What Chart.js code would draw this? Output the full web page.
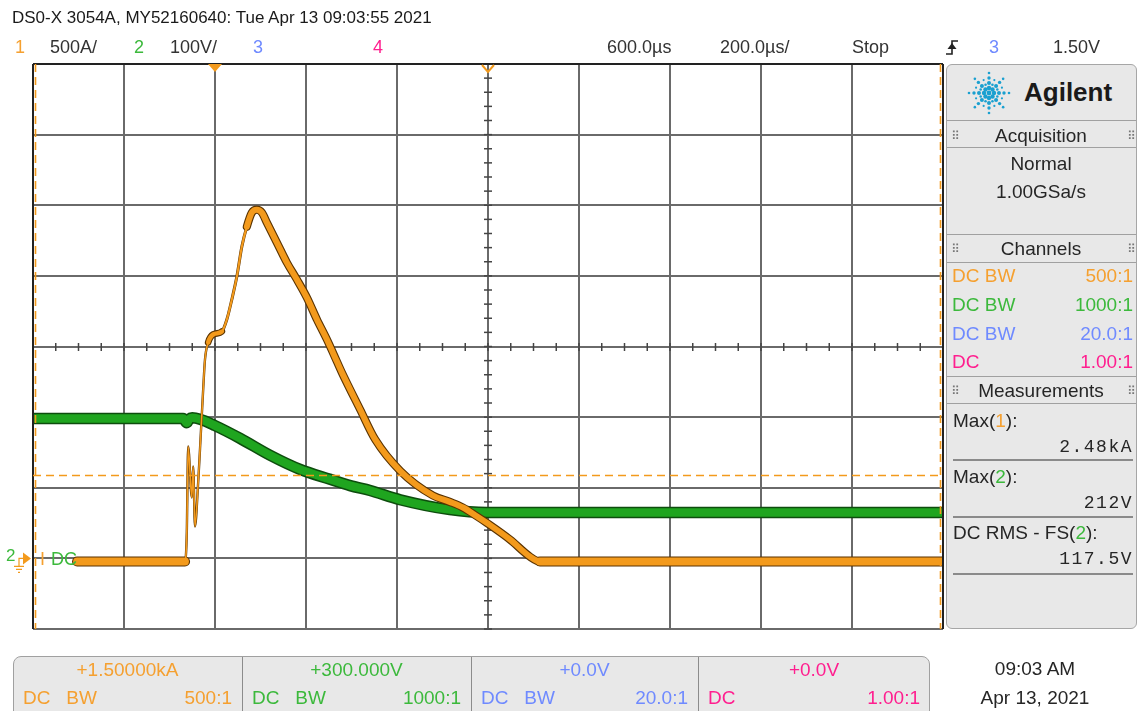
<!DOCTYPE html>
<html><head><meta charset="utf-8">
<script src="https://cdn.jsdelivr.net/npm/chart.js@4.4.1/dist/chart.umd.min.js"></script>
<style>
body{margin:0;background:#fff;width:1139px;height:711px;overflow:hidden;position:relative;font-family:"Liberation Sans",Arial,sans-serif;}
#c{position:absolute;left:0;top:0;}
.t{position:absolute;white-space:nowrap;}
.box{position:absolute;box-sizing:border-box;}
</style></head><body>
<canvas id="c" width="1139" height="711"></canvas>
<script>
const ch1TimeUs = [-303,-66,-62,-59,-51,-48,-44,-37,-33,-26,-22,-15,-4,15,26,37,48,59,70,81,92,103,114,136,158,180,202,224,246,268,279,319,352,407,479,516,545,576,598,648,692,714,1600];
const ch1CurrentA = [-22,-22,183,792,431,650,226,537,771,1196,1408,1529,1585,1606,1691,1833,1995,2207,2349,2448,2469,2448,2377,2236,2094,1974,1846,1691,1549,1393,1315,1054,842,620,445,400,360,297,250,134,13,-22,-22];
const ch2TimeUs = [-400,-70,-62,-57,-50,-33,0,55,121,187,253,297,341,407,516,598,1600];
const ch2VoltageV = [198,198,192,197,199,197,188,170,146,126,112,103,96,83,69,65,65];
// scope settings
const timebaseUsPerDiv = 200, delayUs = 600;
const ch1AmpsPerDiv = 500, ch1OffsetA = 1500;
const ch2VoltsPerDiv = 100, ch2OffsetV = 300;
const cursorTimesUs = [-396, 1594];
const cursorLevelA = 590;

const xMin = delayUs - 5*timebaseUsPerDiv, xMax = delayUs + 5*timebaseUsPerDiv;
const y1Min = ch1OffsetA - 4*ch1AmpsPerDiv, y1Max = ch1OffsetA + 4*ch1AmpsPerDiv;
const y2Min = ch2OffsetV - 4*ch2VoltsPerDiv, y2Max = ch2OffsetV + 4*ch2VoltsPerDiv;

const pts = (xs, ys) => xs.map((x,i)=>({x, y: ys[i]}));
const ORANGE = '#f39a1c', ORANGE_DK = '#5a3300', GREEN = '#1fa51f', GREEN_DK = '#0d4d0d';

function orangeW(t, dark){
  let w;
  if (t < -67) w = 8;
  else if (t < -16) w = 1.6;
  else if (t < 2) w = 4.5;
  else if (t < 68) w = 2.2;
  else if (t < 712) w = 6;
  else w = 8;
  return dark ? w + (w < 3 ? 0.8 : 2.2) : w;
}

const scopePlugin = {
  id: 'scope',
  beforeDatasetsDraw(chart){
    const {ctx, chartArea: a, scales: {x, y}} = chart;
    ctx.save();
    ctx.strokeStyle = '#6a6a6a'; ctx.lineWidth = 2;
    for (let i = 0; i <= 10; i++){
      const px = Math.round(x.getPixelForValue(xMin + i*timebaseUsPerDiv));
      ctx.beginPath(); ctx.moveTo(px, a.top); ctx.lineTo(px, a.bottom); ctx.stroke();
    }
    for (let j = 0; j <= 8; j++){
      const py = Math.round(y.getPixelForValue(y1Min + j*ch1AmpsPerDiv));
      ctx.beginPath(); ctx.moveTo(a.left, py); ctx.lineTo(a.right, py); ctx.stroke();
    }
    const cx = Math.round(x.getPixelForValue(delayUs));
    const cy = Math.round(y.getPixelForValue(ch1OffsetA));
    ctx.strokeStyle = '#444'; ctx.lineWidth = 1.5;
    for (let k = 0; k <= 40; k++){
      const py = a.top + k*a.height/40;
      ctx.beginPath(); ctx.moveTo(cx-4, py); ctx.lineTo(cx+4, py); ctx.stroke();
      const px = a.left + k*a.width/40;
      ctx.beginPath(); ctx.moveTo(px, cy-4); ctx.lineTo(px, cy+4); ctx.stroke();
    }
    ctx.restore();
  },
  afterDatasetsDraw(chart){
    const {ctx, chartArea: a, scales: {x, y}} = chart;
    ctx.save();
    ctx.strokeStyle = '#222'; ctx.lineWidth = 2;
    ctx.beginPath(); ctx.moveTo(a.left, a.top); ctx.lineTo(a.right, a.top); ctx.stroke();
    ctx.beginPath(); ctx.moveTo(a.left, a.top); ctx.lineTo(a.left, a.bottom); ctx.stroke();
    ctx.beginPath(); ctx.moveTo(a.right, a.top); ctx.lineTo(a.right, a.bottom); ctx.stroke();
    ctx.strokeStyle = ORANGE; ctx.lineWidth = 1.6; ctx.setLineDash([8,5]);
    const ly = Math.round(y.getPixelForValue(cursorLevelA)) + 0.5;
    ctx.beginPath(); ctx.moveTo(a.left, ly); ctx.lineTo(a.right, ly); ctx.stroke();
    cursorTimesUs.forEach(t => {
      const px = Math.round(x.getPixelForValue(t)) + 0.5;
      ctx.beginPath(); ctx.moveTo(px, a.top); ctx.lineTo(px, a.bottom); ctx.stroke();
    });
    ctx.setLineDash([]);
    const tx = x.getPixelForValue(0);
    ctx.fillStyle = ORANGE;
    ctx.beginPath(); ctx.moveTo(tx-7, a.top); ctx.lineTo(tx+7, a.top); ctx.lineTo(tx, a.top+8); ctx.closePath(); ctx.fill();
    const dx = x.getPixelForValue(delayUs);
    ctx.strokeStyle = ORANGE; ctx.lineWidth = 2;
    ctx.beginPath(); ctx.moveTo(dx-6, a.top+1); ctx.lineTo(dx, a.top+8); ctx.lineTo(dx+6, a.top+1); ctx.stroke();
    const gy = y.getPixelForValue(0);
    ctx.fillStyle = ORANGE;
    ctx.beginPath(); ctx.moveTo(23, gy-6); ctx.lineTo(31, gy); ctx.lineTo(23, gy+6); ctx.closePath(); ctx.fill();
    ctx.strokeStyle = ORANGE; ctx.lineWidth = 1.2;
    ctx.beginPath(); ctx.moveTo(24, gy); ctx.lineTo(19, gy); ctx.lineTo(19, gy+8); ctx.stroke();
    ctx.beginPath(); ctx.moveTo(14, gy+8); ctx.lineTo(24, gy+8); ctx.moveTo(16, gy+11); ctx.lineTo(22, gy+11); ctx.moveTo(18, gy+14); ctx.lineTo(20, gy+14); ctx.stroke();
    ctx.restore();
  }
};

new Chart(document.getElementById('c'), {
  type: 'line',
  data: { datasets: [
    { label:'ch1', data: pts(ch1TimeUs, ch1CurrentA), yAxisID:'y', borderColor: ORANGE, order: 1,
      borderCapStyle:'round', borderJoinStyle:'round',
      segment: { borderWidth: c => orangeW(c.p0.parsed.x, false) } },
    { label:'ch1 edge', data: pts(ch1TimeUs, ch1CurrentA), yAxisID:'y', borderColor: ORANGE_DK, order: 2,
      borderCapStyle:'round', borderJoinStyle:'round',
      segment: { borderWidth: c => orangeW(c.p0.parsed.x, true) } },
    { label:'ch2', data: pts(ch2TimeUs, ch2VoltageV), yAxisID:'y2', borderColor: GREEN, borderWidth: 8.5, order: 3,
      borderJoinStyle:'miter' },
    { label:'ch2 edge', data: pts(ch2TimeUs, ch2VoltageV), yAxisID:'y2', borderColor: GREEN_DK, borderWidth: 11.5, order: 4,
      borderJoinStyle:'miter' }
  ]},
  options: {
    responsive:false, animation:false, devicePixelRatio:1, events:[],
    layout:{ padding:{ left:33, top:64, right:196, bottom:82 } },
    plugins:{ legend:{display:false}, tooltip:{enabled:false} },
    elements:{ point:{ radius:0 }, line:{ tension:0, cubicInterpolationMode:'monotone' } },
    scales:{
      x:{ type:'linear', min:xMin, max:xMax, display:false },
      y:{ type:'linear', min:y1Min, max:y1Max, display:false },
      y2:{ type:'linear', min:y2Min, max:y2Max, display:false }
    }
  },
  plugins:[scopePlugin]
});

// ---- screen text ----
function box(l,t,w,h,css){const d=document.createElement('div');d.className='box';d.style.cssText+=`left:${l}px;top:${t}px;width:${w}px;height:${h}px;`+css;document.body.appendChild(d);return d;}
function put(html,x,cy,o={}){
  const d=document.createElement('div'); d.className='t'; d.innerHTML=html;
  const s=o.s||19, lh=Math.round(s*1.3);
  d.style.fontSize=s+'px'; d.style.lineHeight=lh+'px'; d.style.top=(cy-lh/2)+'px';
  d.style.color=o.c||'#262626';
  if(o.f) d.style.fontFamily=o.f;
  if(o.w) d.style.fontWeight=o.w;
  if(o.ls) d.style.letterSpacing=o.ls+'px';
  if(o.a==='r') d.style.right=(1139-x)+'px';
  else if(o.a==='c'){ d.style.left=(x-150)+'px'; d.style.width='300px'; d.style.textAlign='center'; }
  else d.style.left=x+'px';
  document.body.appendChild(d); return d;
}
const cO='#f5a030', cG='#3cb93c', cB='#6f8aff', cP='#ff1f8f';
const sp=(c,t)=>`<span style="color:${c}">${t}</span>`;

put('DS0-X 3054A, MY52160640: Tue Apr 13 09:03:55 2021',12,18,{s:17,c:'#1a1a1a'});
put('1',15,47,{c:cO,s:18}); put('500A/',50,47,{s:18,c:'#333'});
put('2',134,47,{c:cG,s:18}); put('100V/',170,47,{s:18,c:'#333'});
put('3',253,47,{c:cB,s:18}); put('4',373,47,{c:cP,s:18});
put('600.0µs',607,47,{s:18,c:'#333'}); put('200.0µs/',720,47,{s:18,c:'#333'});
put('Stop',852,47,{s:18,c:'#333'});
put('3',989,47,{c:cB,s:18}); put('1.50V',1053,47,{s:18,c:'#333'});
const trig=document.createElement('div'); trig.className='t'; trig.style.cssText+='left:944px;top:37px;';
trig.innerHTML='<svg width="16" height="20"><path d="M2 17 H8 V4 H14" fill="none" stroke="#222" stroke-width="1.6"/><polygon points="3.5,12 12.5,12 8,6" fill="#222"/></svg>';
document.body.appendChild(trig);

put('2',6,556,{c:cG,s:17}); put('I',40,559,{c:cO,s:18}); put('DC',51,559,{c:cG,s:18});

box(946,64,191,565,'background:#e8e8e8;border:1px solid #a6a6a6;border-radius:6px;');
[120,147,234,262,376,403].forEach(yy=>box(947,yy,189,1,'background:#a0a0a0;'));
[459,516,573].forEach(yy=>box(953,yy,180,2,'background:#8a8a8a;'));
const logo=document.createElement('div'); logo.className='t'; logo.style.cssText+='left:966px;top:70px;';
let svg='<svg width="46" height="46">';
for(let k=0;k<8;k++){const an=k*Math.PI/4;[[5,2.2],[10,2],[15,1.7],[20,1.3]].forEach(([r,s])=>{svg+=`<circle cx="${23+r*Math.cos(an)}" cy="${23+r*Math.sin(an)}" r="${s}" fill="#1aa0d0"/>`;});}
for(let k=0;k<8;k++){const an=k*Math.PI/4+Math.PI/8;[[9,1.3],[14,1.1]].forEach(([r,s])=>{svg+=`<circle cx="${23+r*Math.cos(an)}" cy="${23+r*Math.sin(an)}" r="${s}" fill="#1aa0d0"/>`;});}
svg+='<circle cx="23" cy="23" r="2.4" fill="#1aa0d0"/></svg>';
logo.innerHTML=svg; document.body.appendChild(logo);
put('Agilent',1024,92,{s:26,w:'bold',c:'#1a1a1a'});
const dots='<span style="font-family:DejaVu Sans;font-size:12px;color:#777">⠿</span>';
[[135,'Acquisition'],[248,'Channels'],[390,'Measurements']].forEach(([yy,tx])=>{
  put(tx,1041,yy,{a:'c',s:19}); put(dots,951,yy+1,{s:12}); put(dots,1127,yy+1,{s:12});
});
put('Normal',1041,163,{a:'c',s:19}); put('1.00GSa/s',1041,191,{a:'c',s:19});
[[275,cO,'DC BW','500:1'],[304,cG,'DC BW','1000:1'],[333,cB,'DC BW','20.0:1'],[361,cP,'DC','1.00:1']].forEach(([yy,c,l,r])=>{
  put(l,952,yy,{c,s:19}); put(r,1133,yy,{c,s:19,a:'r'});
});
put('Max('+sp(cO,'1')+'):',953,420,{s:19}); put('2.48kA',1133,447,{s:18,a:'r',f:'"Liberation Mono",monospace',ls:1.5});
put('Max('+sp(cG,'2')+'):',953,476,{s:19}); put('212V',1133,503,{s:18,a:'r',f:'"Liberation Mono",monospace',ls:1.5});
put('DC RMS - FS('+sp(cG,'2')+'):',953,532,{s:19}); put('117.5V',1133,559,{s:18,a:'r',f:'"Liberation Mono",monospace',ls:1.5});

box(13,656,917,70,'background:#e8e8e8;border:1px solid #a0a0a0;border-radius:8px;');
[242,471,698].forEach(xx=>box(xx,657,1,60,'background:#8c8c8c;'));
const cols=[[13,242,cO,'+1.50000kA','DC&nbsp;&nbsp;&nbsp;BW','500:1'],[242,471,cG,'+300.000V','DC&nbsp;&nbsp;&nbsp;BW','1000:1'],[471,698,cB,'+0.0V','DC&nbsp;&nbsp;&nbsp;BW','20.0:1'],[698,930,cP,'+0.0V','DC','1.00:1']];
cols.forEach(([l,r,c,top,bl,br])=>{
  put(top,(l+r)/2,669,{a:'c',c,s:19});
  put(bl,l+10,697,{c,s:19}); put(br,r-10,697,{a:'r',c,s:19});
});
put('09:03 AM',1035,668,{a:'c',s:19}); put('Apr 13, 2021',1035,697,{a:'c',s:19});
</script>
</body></html>
